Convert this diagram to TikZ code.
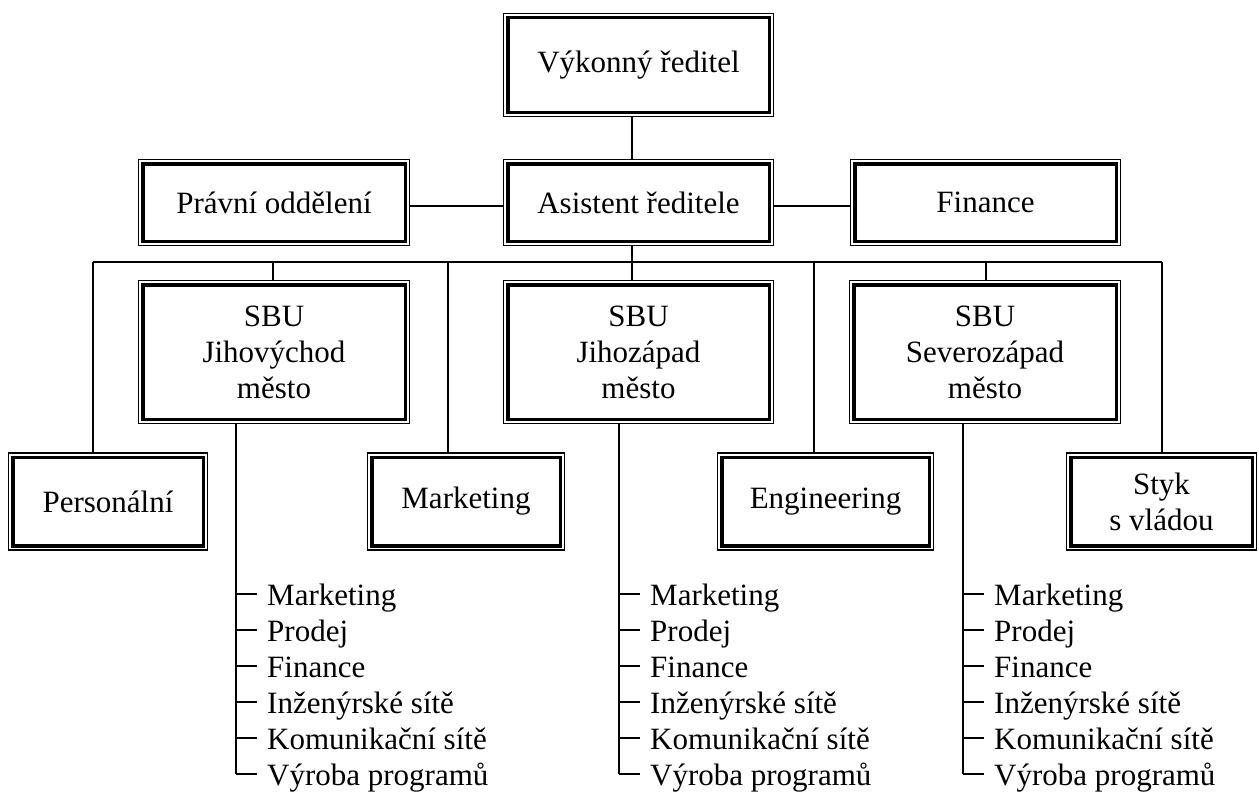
\documentclass[tikz,border=0pt]{standalone}
\usepackage{fontspec}
\setmainfont{Liberation Serif}
\begin{document}
\begin{tikzpicture}[x=1pt,y=-1pt,
  every node/.style={font=\fontsize{31}{36}\selectfont},
  box/.style={draw, rectangle, line width=1.5pt, inner sep=0pt, align=center, fill=white},
  innerline/.style={line width=3.5pt},
  conn/.style={line width=1.3pt},
  item/.style={inner sep=0pt, anchor=base west},
]
\useasboundingbox (0,0) rectangle (1259,792);

% boxes
\node[box, minimum width=270pt, minimum height=103pt] (ceo)   at (638.5,65)    {Výkonný ředitel};
\node[box, minimum width=270pt, minimum height=86pt]  (asst)  at (638.5,202.5) {Asistent ředitele};
\node[box, minimum width=271pt, minimum height=86pt]  (legal) at (274,202.5)   {Právní oddělení};
\node[box, minimum width=270pt, minimum height=86pt]  (fin)   at (985.5,202.5) {Finance};
\node[box, minimum width=271pt, minimum height=143pt] (sbua)  at (274,352)     {SBU\\Jihovýchod\\město};
\node[box, minimum width=270pt, minimum height=143pt] (sbub)  at (638.5,352)   {SBU\\Jihozápad\\město};
\node[box, minimum width=271pt, minimum height=143pt] (sbuc)  at (985,352)     {SBU\\Severozápad\\město};
\node[box, minimum width=199pt, minimum height=97pt]  (pers)  at (108,501.5)   {Personální};
\node[box, minimum width=197pt, minimum height=97pt]  (mkt)   at (466,501.5)   {Marketing};
\node[box, minimum width=216pt, minimum height=97pt]  (eng)   at (825.5,501.5) {Engineering};
\node[box, minimum width=190pt, minimum height=97pt]  (styk)  at (1161.5,501.5) {Styk\\s vládou};

% heavy inner frame of every box
\foreach \n in {ceo,asst,legal,fin,sbua,sbub,sbuc,pers,mkt,eng,styk}
  \draw[innerline] ([shift={(5pt,-5pt)}]\n.north west) rectangle ([shift={(-5pt,5pt)}]\n.south east);

% reference points for the connectors
\coordinate (mid)  at (632,206);
\coordinate (busL) at (93,262);
\coordinate (busR) at (1162,262);
\coordinate (dA)   at (273,262);
\coordinate (dM)   at (448,262);
\coordinate (dE)   at (814,262);
\coordinate (dC)   at (986,262);

% top of the chart
\draw[conn] (ceo.south -| mid) -- (asst.north -| mid);
\draw[conn] (legal.east |- mid) -- (asst.west |- mid);
\draw[conn] (asst.east |- mid) -- (fin.west |- mid);

% distribution bus and its drops
\draw[conn] (busL) -- (busR);
\draw[conn] (asst.south -| mid) -- (busL -| mid);
\draw[conn] (busL) -- (pers.north -| busL);
\draw[conn] (dA) -- (sbua.north -| dA);
\draw[conn] (dM) -- (mkt.north -| dM);
\draw[conn] (busL -| mid) -- (sbub.north -| mid);
\draw[conn] (dE) -- (eng.north -| dE);
\draw[conn] (dC) -- (sbuc.north -| dC);
\draw[conn] (busR) -- (styk.north -| busR);

% department lists below each SBU
\foreach \p/\tx in {a/236, b/619, c/963}{
  \coordinate (trunk\p) at (\tx,774);
  \draw[conn] (sbu\p.south -| trunk\p) -- (trunk\p);
  \foreach \txt [count=\i] in {Marketing, Prodej, Finance, Inženýrské sítě, Komunikační sítě, Výroba programů}{
    \pgfmathsetmacro\yb{605+36*(\i-1)}
    \pgfmathsetmacro\yt{\i<6 ? \yb-11 : 774}
    \node[item] (\p\i) at (\tx+31,\yb) {\txt};
    \draw[conn] (\tx,\yt) -- (\tx+21,\yt);
  }
}
\end{tikzpicture}
\end{document}
